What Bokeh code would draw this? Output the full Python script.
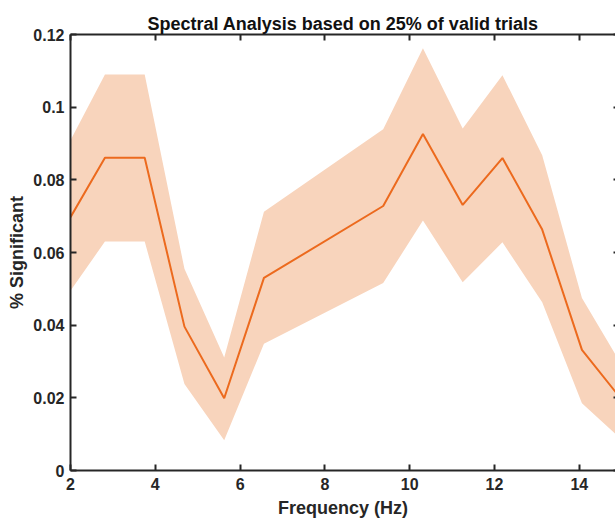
from bokeh.plotting import figure
from bokeh.models import LinearAxis, FixedTicker, Range1d
from bokeh.embed import file_html
from bokeh.resources import INLINE

# ---- data ----
freq = [2.0, 2.8125, 3.75, 4.6875, 5.625, 6.5625, 9.375, 10.3125, 11.25, 12.1875, 13.125, 14.0625, 15.0]
mean_sig = [0.0697, 0.0861, 0.0861, 0.0396, 0.0199, 0.0530, 0.0728, 0.0926, 0.0731, 0.0860, 0.0663, 0.0332, 0.0195]
upper_sig = [0.0909, 0.1090, 0.1090, 0.0555, 0.0311, 0.0712, 0.0939, 0.1162, 0.0941, 0.1088, 0.0868, 0.0475, 0.0290]
lower_sig = [0.0495, 0.0630, 0.0630, 0.0238, 0.0083, 0.0349, 0.0516, 0.0688, 0.0518, 0.0628, 0.0463, 0.0185, 0.0085]

x_ticks = [2, 4, 6, 8, 10, 12, 14]
y_ticks = [0, 0.02, 0.04, 0.06, 0.08, 0.1, 0.12]
y_tick_labels = ["0", "0.02", "0.04", "0.06", "0.08", "0.1", "0.12"]

title_text = "Spectral Analysis based on 25% of valid trials"
x_label = "Frequency (Hz)"
y_label = "% Significant"

FONT = "Liberation Sans"
AX_COLOR = "#262626"
LINE_COLOR = "#EC6A1E"
BAND_COLOR = "#F8D4BC"

p = figure(width=615, height=520, output_backend="svg", toolbar_location=None,
           x_range=Range1d(2, 14.854), y_range=Range1d(0, 0.12),
           min_border_left=70, min_border_right=0, min_border_top=34, min_border_bottom=50,
           title=title_text)
p.outline_line_color = None
p.background_fill_color = "white"
p.border_fill_color = "white"
p.grid.visible = False

p.title.text_font = FONT
p.title.text_font_size = "18px"
p.title.text_font_style = "bold"
p.title.text_color = "#111111"
p.title.align = "center"
p.title.offset = 4
p.title.standoff = 1

p.varea(x=freq, y1=lower_sig, y2=upper_sig, fill_color=BAND_COLOR, fill_alpha=1.0)
p.line(x=freq, y=mean_sig, line_color=LINE_COLOR, line_width=2)


def style_axis(ax, ticks):
    ax.ticker = FixedTicker(ticks=ticks)
    ax.axis_line_color = AX_COLOR
    ax.axis_line_width = 2
    ax.major_tick_line_color = AX_COLOR
    ax.major_tick_line_width = 2
    ax.major_tick_in = 6
    ax.major_tick_out = 0
    ax.minor_tick_line_color = None
    ax.major_label_text_font = FONT
    ax.major_label_text_font_size = "16px"
    ax.major_label_text_font_style = "bold"
    ax.major_label_text_color = AX_COLOR
    ax.axis_label_text_font = FONT
    ax.axis_label_text_font_size = "18px"
    ax.axis_label_text_font_style = "bold"
    ax.axis_label_text_color = AX_COLOR


xax = p.xaxis[0]
style_axis(xax, x_ticks)
xax.axis_label = x_label
xax.major_label_standoff = 7
xax.axis_label_standoff = 5

yax = p.yaxis[0]
style_axis(yax, y_ticks)
yax.axis_label = y_label
yax.major_label_overrides = {t: lab for t, lab in zip(y_ticks, y_tick_labels)}
yax.major_label_standoff = 6
yax.axis_label_standoff = 3

top = LinearAxis()
style_axis(top, x_ticks)
top.major_label_text_font_size = "1px"
top.major_label_text_color = None
top.major_label_standoff = 0
p.add_layout(top, "above")

right = LinearAxis()
style_axis(right, y_ticks)
right.axis_line_color = None
right.major_tick_in = 2
right.major_label_text_font_size = "1px"
right.major_label_text_color = None
right.major_label_standoff = 0
p.add_layout(right, "right")

open("out.html", "w").write(file_html(p, INLINE))
